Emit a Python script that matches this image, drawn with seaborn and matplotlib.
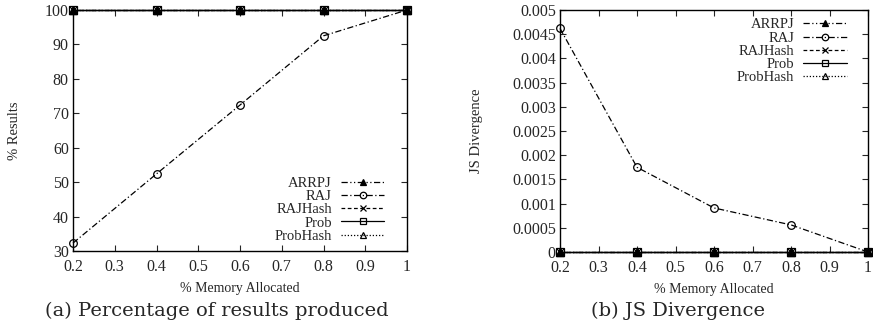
import matplotlib
matplotlib.use("Agg")
import matplotlib.pyplot as plt
import seaborn as sns
import pandas as pd


# -----------------------------
# Data
# -----------------------------

memory = [0.2, 0.4, 0.6, 0.8, 1.0]

methods = ["ARRPJ", "RAJ", "RAJHash", "Prob", "ProbHash"]

results_arrpj = [100, 100, 100, 100, 100]
results_raj = [32.3, 52.4, 72.4, 92.5, 100]
results_rajhash = [100, 100, 100, 100, 100]
results_prob = [100, 100, 100, 100, 100]
results_probhash = [100, 100, 100, 100, 100]

js_arrpj = [0, 0, 0, 0, 0]
js_raj = [0.00462, 0.00175, 0.00091, 0.00056, 0.0]
js_rajhash = [0, 0, 0, 0, 0]
js_prob = [0, 0, 0, 0, 0]
js_probhash = [0, 0, 0, 0, 0]


# -----------------------------
# Styles
# -----------------------------

line_styles = {
    "ARRPJ": (0, (5, 2, 1, 2, 1, 2)),
    "RAJ": (0, (5, 2, 1, 2)),
    "RAJHash": (0, (3, 2)),
    "Prob": "-",
    "ProbHash": (0, (1, 1.5)),
}

marker_styles = {
    "ARRPJ": ("^", "black"),
    "RAJ": ("o", "none"),
    "RAJHash": ("x", "black"),
    "Prob": ("s", "none"),
    "ProbHash": ("^", "none"),
}

sns.set_style("ticks")
plt.rcParams["font.family"] = ["Liberation Serif", "DejaVu Serif"]


def draw_panel(ax, values, ylabel, legend_loc, legend_anchor):
    for name in methods:
        df = pd.DataFrame({"x": memory, "y": values[name]})
        marker, face = marker_styles[name]
        sns.lineplot(
            data=df,
            x="x",
            y="y",
            ax=ax,
            color="black",
            linewidth=0.9,
            linestyle=line_styles[name],
            marker=marker,
            markersize=5.5,
            markerfacecolor=face,
            markeredgecolor="black",
            markeredgewidth=0.9,
            label=name,
            clip_on=False,
            zorder=3,
        )

    ax.set_xlim(0.2, 1.0)
    ax.set_xticks([0.2, 0.3, 0.4, 0.5, 0.6, 0.7, 0.8, 0.9, 1.0])
    ax.set_xticklabels(["0.2", "0.3", "0.4", "0.5", "0.6", "0.7", "0.8", "0.9", "1"])
    ax.set_xlabel("% Memory Allocated", fontsize=10)
    ax.set_ylabel(ylabel, fontsize=10.5)
    ax.tick_params(direction="in", top=True, right=True, labelsize=11.5,
                   length=4, width=0.8)
    ax.tick_params(axis="x", pad=6)
    ax.tick_params(axis="y", pad=3)
    for spine in ax.spines.values():
        spine.set_visible(True)
        spine.set_linewidth(1.0)
        spine.set_color("black")

    ax.legend(
        loc=legend_loc,
        bbox_to_anchor=legend_anchor,
        frameon=False,
        markerfirst=False,
        handlelength=3.0,
        fontsize=10.5,
        labelspacing=0.0,
        handletextpad=0.6,
        borderaxespad=0.0,
        markerscale=0.85,
    )


fig = plt.figure(figsize=(8.73, 3.26), dpi=100)

ax1 = fig.add_axes([73 / 873, 75 / 326, 334 / 873, 241 / 326])
ax2 = fig.add_axes([560 / 873, 74 / 326, 308 / 873, 242 / 326])

draw_panel(
    ax1,
    {
        "ARRPJ": results_arrpj,
        "RAJ": results_raj,
        "RAJHash": results_rajhash,
        "Prob": results_prob,
        "ProbHash": results_probhash,
    },
    "% Results",
    "lower right",
    (0.95, 0.01),
)
ax1.set_ylim(30, 100)
ax1.set_yticks([30, 40, 50, 60, 70, 80, 90, 100])
ax1.yaxis.set_label_coords(-0.155, 0.5)
ax1.xaxis.set_label_coords(0.5, -0.13)

draw_panel(
    ax2,
    {
        "ARRPJ": js_arrpj,
        "RAJ": js_raj,
        "RAJHash": js_rajhash,
        "Prob": js_prob,
        "ProbHash": js_probhash,
    },
    "JS Divergence",
    "upper right",
    (0.95, 0.99),
)
ax2.set_ylim(0, 0.005)
ax2.set_yticks([0, 0.0005, 0.001, 0.0015, 0.002, 0.0025, 0.003, 0.0035, 0.004, 0.0045, 0.005])
ax2.set_yticklabels(["0", "0.0005", "0.001", "0.0015", "0.002", "0.0025", "0.003",
                     "0.0035", "0.004", "0.0045", "0.005"])
ax2.yaxis.set_label_coords(-0.25, 0.5)
ax2.xaxis.set_label_coords(0.5, -0.13)

fig.text(217 / 873, 1 - 311 / 326, "(a) Percentage of results produced",
         ha="center", va="center", fontsize=14, family="DejaVu Serif")
fig.text(678 / 873, 1 - 311 / 326, "(b) JS Divergence",
         ha="center", va="center", fontsize=14, family="DejaVu Serif")

fig.savefig("out.png", dpi=100)
